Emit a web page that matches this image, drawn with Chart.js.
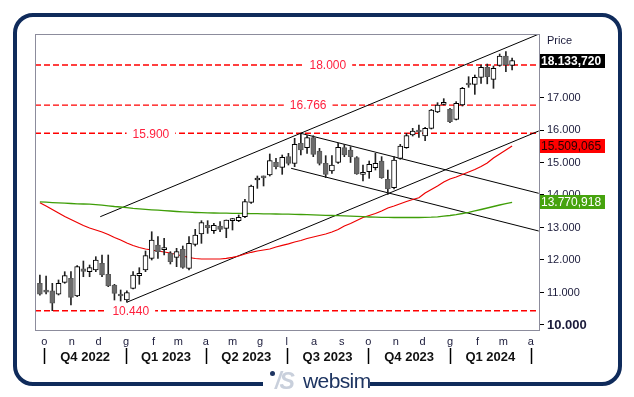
<!DOCTYPE html>
<html>
<head>
<meta charset="utf-8">
<script src="https://cdn.jsdelivr.net/npm/chart.js@4.4.1/dist/chart.umd.min.js"></script>
<style>
  html, body { margin: 0; padding: 0; background: #fff; }
  #wrap { position: relative; width: 634px; height: 397px; overflow: hidden; }
  #frame { position: absolute; left: 13px; top: 13px; width: 609px; height: 373px; box-sizing: border-box;
           border: 4px solid #0f2b5b; border-radius: 20px; }
  #logo { position: absolute; left: 263px; top: 368px; width: 107px; height: 27px; background: #fff;
          font-family: "Liberation Sans", Arial, sans-serif; white-space: nowrap; }
  #logo .dot { position: absolute; left: 7px; top: 3px; width: 5px; height: 5px; border-radius: 50%; background: #1d3461; }
  #logo .mk { position: absolute; left: 12px; top: 0px; font-size: 23px; font-weight: bold; font-style: italic; color: #c9d0dc; letter-spacing: -2px; }
  #logo .tx { position: absolute; left: 40px; top: 1px; font-size: 21px; color: #1d3461; letter-spacing: -0.6px; }
  canvas { position: absolute; left: 0; top: 0; }
</style>
</head>
<body>
<div id="wrap">
  <div id="frame"></div>
  <canvas id="chart" width="634" height="397"></canvas>
  <div id="logo"><span class="dot"></span><span class="mk">/S</span><span class="tx">websim</span></div>
</div>
<script>
// weekly candles, first week starting 26 Sep 2022
var firstWeek = '2022-09-26';
var opens  = [11283,11040,11055,10945,11313,11437,10892,11732,11640,11692,11898,11560,11231,10954,10770,11129,11517,11692,12051,12461,
              12320,12205,12083,12329,11744,12483,12800,13066,12902,13046,12974,13210,13210,13333,13775,14462,14540,14615,15005,14852,
              15180,14975,15590,15456,15764,15354,14975,14738,15005,15456,15385,15150,14636,14718,14843,15046,14483,14226,15128,15456,
              15846,16000,15815,16051,16554,16790,16636,16328,16769,17400,17405,17620,17928,17559,17990,18277,17990];
var highs  = [11538,11508,11283,11385,11640,11640,11825,11969,11846,12102,12154,12154,11252,11077,11050,11640,11763,12277,12870,12717,
              12667,12256,12359,12431,12717,12943,13210,13210,13128,13180,13230,13280,13385,13866,14308,14585,14585,15262,15128,15231,
              15282,15744,15867,15825,15825,15436,15210,15210,15590,15560,15487,15180,14923,15046,15282,15180,14769,15180,15560,15898,
              16051,16154,16082,16636,16841,16964,16667,16872,17313,17640,17692,18000,18030,17970,18338,18410,18215];
var lows   = [10920,10954,10440,10923,11283,10615,10871,11486,11486,11640,11486,11180,10769,10738,10700,11108,11252,11640,12000,12051,
              12154,11877,11794,11744,11692,12431,12513,12820,12820,12871,12686,12923,13180,13302,13744,14205,14277,14585,14800,14636,
              14923,14872,15230,15282,15180,14923,14533,14667,14975,15180,15000,14636,14430,14513,14769,14513,14020,14185,15098,15436,
              15815,15774,15671,16030,16533,16769,16226,16308,16738,17313,17097,17436,17420,17282,17960,17795,17850];
var closes = [10945,11010,10668,11283,11517,10852,11794,11652,11763,12000,11538,11200,10975,10892,11000,11538,11590,12133,12615,12256,
              12340,11948,12256,11775,12513,12769,13148,12994,13066,12943,13230,13250,13312,13794,14277,14513,14525,15056,14872,15159,
              14975,15560,15385,15764,15252,14975,14636,14923,15467,15230,15180,14646,14698,14944,14975,14533,14185,15077,15508,15825,
              15970,15938,16051,16615,16769,16810,16256,16820,17282,17385,17620,17928,17640,17897,18277,18000,18133.72];

// moving averages (red = short, green = long)
var maRed   = [13760,13662,13554,13446,13338,13246,13154,13062,12985,12923,12862,12785,12692,12615,12523,12446,12385,12338,12308,12277,
               12246,12215,12169,12123,12077,12046,12031,12031,12031,12031,12052,12083,12123,12185,12237,12277,12308,12338,12400,12452,
               12498,12554,12600,12662,12708,12754,12800,12862,12938,13046,13123,13215,13308,13369,13431,13508,13600,13662,13729,13800,
               13862,13914,14062,14169,14277,14400,14492,14554,14631,14708,14785,14877,14985,15138,15262,15385,15509.065];
var maGreen = [13791,13779,13766,13757,13748,13739,13729,13723,13717,13705,13686,13668,13646,13631,13612,13591,13575,13560,13545,13532,
               13520,13508,13492,13480,13471,13462,13456,13449,13446,13443,13440,13437,13434,13431,13428,13425,13422,13418,13415,13412,
               13409,13406,13400,13394,13388,13382,13375,13369,13363,13357,13351,13342,13332,13323,13317,13314,13311,13308,13308,13308,
               13308,13308,13311,13317,13329,13348,13369,13397,13431,13465,13508,13554,13600,13646,13692,13732,13770.918];

// horizontal levels
var levels = [18000, 16766, 15900, 10440];

// trend lines: [start date, value] -> [end date, value]
var trendLines = [
  [['2022-12-03', 13332], ['2024-04-10', 18950]],
  [['2023-01-02', 10700], ['2024-04-10', 15969]],
  [['2023-07-17', 15898], ['2024-04-10', 14052]],
  [['2023-07-06', 14822], ['2024-04-10', 12892]]
];

var monthStarts = ['2022-10-01','2022-11-01','2022-12-01','2023-01-01','2023-02-01','2023-03-01','2023-04-01','2023-05-01',
                   '2023-06-01','2023-07-01','2023-08-01','2023-09-01','2023-10-01','2023-11-01','2023-12-01','2024-01-01',
                   '2024-02-01','2024-03-01','2024-04-01'];
var monthLabels = ['o','n','d','g','f','m','a','m','g','l','a','s','o','n','d','g','f','m','a'];
var quarterStarts = ['2022-10-01','2023-01-01','2023-04-01','2023-07-01','2023-10-01','2024-01-01','2024-04-01'];
var quarterLabels = ['Q4 2022','Q1 2023','Q2 2023','Q3 2023','Q4 2023','Q1 2024'];
var yTicks = [10000, 11000, 12000, 13000, 14000, 15000, 16000, 17000, 18000];

// ---------------------------------------------------------------
var FONT = '"Liberation Sans", Arial, sans-serif';
var origin = Date.UTC(2022, 9, 1);
function dayOf(s) { return (Date.parse(s) - origin) / 86400000; }
function fmtIt(v, dec) {
  var parts = v.toFixed(dec).split('.');
  var i = parts[0].replace(/\B(?=(\d{3})+(?!\d))/g, '.');
  return parts.length > 1 ? i + ',' + parts[1] : i;
}

var xMin = -10.5, xMax = 557.3;
var days = closes.map(function (c, i) { return dayOf(firstWeek) + 7 * i; });
var isUp = closes.map(function (c, i) { return c >= opens[i]; });
var last = closes.length - 1;

var datasets = [];

levels.forEach(function (v) {
  datasets.push({
    type: 'line', order: 5, data: [{x: xMin, y: v}, {x: xMax, y: v}],
    borderColor: '#ff0000', borderWidth: 1.4, borderDash: [6, 3], pointRadius: 0
  });
});

trendLines.forEach(function (t) {
  datasets.push({
    type: 'line', order: 4,
    data: [{x: dayOf(t[0][0]), y: t[0][1]}, {x: dayOf(t[1][0]), y: t[1][1]}],
    borderColor: '#000', borderWidth: 1, pointRadius: 0
  });
});

datasets.push({
  type: 'line', order: 3, data: days.map(function (d, i) { return {x: d, y: maGreen[i]}; }),
  borderColor: '#3f9e08', borderWidth: 1.3, pointRadius: 0, tension: 0
});
datasets.push({
  type: 'line', order: 3, data: days.map(function (d, i) { return {x: d, y: maRed[i]}; }),
  borderColor: '#ee0000', borderWidth: 1.2, pointRadius: 0, tension: 0
});

// wicks
datasets.push({
  type: 'bar', order: 2, grouped: false, barThickness: 1,
  data: days.map(function (d, i) { return {x: d, y: [lows[i], highs[i]]}; }),
  backgroundColor: '#222', borderWidth: 0
});
// bodies
datasets.push({
  type: 'bar', order: 1, grouped: false, barThickness: 5, minBarLength: 2,
  data: days.map(function (d, i) { return {x: d, y: [opens[i], closes[i]]}; }),
  backgroundColor: isUp.map(function (u) { return u ? '#ffffff' : '#6b6b6b'; }),
  borderColor: isUp.map(function (u) { return u ? '#000000' : '#5a5a5a'; }),
  borderWidth: 1, borderSkipped: false
});

datasets.forEach(function (ds) { ds.xAxisID = 'x'; ds.yAxisID = 'y'; });

var levelLabelPos = [0.581, 0.542, 0.230, 0.190];
var valueBoxes = [
  {v: closes[last], bg: '#000000', fg: '#ffffff', bold: true},
  {v: maRed[last], bg: '#ff0000', fg: '#2a0000', bold: false},
  {v: maGreen[last], bg: '#46a30e', fg: '#ffffff', bold: false}
];

var overlay = {
  id: 'overlay',
  afterDatasetsDraw: function (chart) {
    var ctx = chart.ctx, a = chart.chartArea, y = chart.scales.y;
    ctx.save();
    ctx.font = '12px ' + FONT;
    ctx.textAlign = 'center';
    ctx.textBaseline = 'middle';
    levels.forEach(function (v, k) {
      var t = fmtIt(v, 0);
      var px = a.left + a.width * levelLabelPos[k];
      var py = y.getPixelForValue(v);
      var w = ctx.measureText(t).width + 12;
      ctx.fillStyle = '#fff';
      ctx.fillRect(px - w / 2, py - 3, w, 6);
      ctx.fillStyle = '#ff1f3d';
      ctx.fillText(t, px, py + 1);
    });
    ctx.strokeStyle = '#8c8c9c';
    ctx.lineWidth = 1;
    ctx.strokeRect(a.left + 0.5, a.top + 0.5, a.right - a.left, a.bottom - a.top);
    ctx.restore();
  },
  afterDraw: function (chart) {
    var ctx = chart.ctx, a = chart.chartArea, y = chart.scales.y, x = chart.scales.x;
    ctx.save();
    ctx.textBaseline = 'middle';
    ctx.textAlign = 'left';
    ctx.fillStyle = '#1a1a3a';
    ctx.font = '11px ' + FONT;
    ctx.fillText('Price', a.right + 8, a.top + 7);
    valueBoxes.forEach(function (b) {
      var py = Math.round(y.getPixelForValue(b.v));
      ctx.fillStyle = b.bg;
      ctx.fillRect(a.right + 1, py - 7, 65, 14);
      ctx.fillStyle = b.fg;
      ctx.font = (b.bold ? 'bold ' : '') + '12px ' + FONT;
      ctx.fillText(fmtIt(b.v, 3), a.right + 2, py + 1);
    });
    ctx.strokeStyle = '#000';
    ctx.lineWidth = 1.5;
    quarterStarts.forEach(function (s) {
      var px = Math.round(x.getPixelForValue(dayOf(s))) + 0.5;
      ctx.beginPath();
      ctx.moveTo(px, a.bottom + 18);
      ctx.lineTo(px, a.bottom + 34);
      ctx.stroke();
    });
    ctx.restore();
  }
};

var quarterMid = quarterLabels.map(function (q, i) {
  return (dayOf(quarterStarts[i]) + dayOf(quarterStarts[i + 1])) / 2;
});

new Chart(document.getElementById('chart'), {
  type: 'bar',
  data: { datasets: datasets },
  options: {
    responsive: false,
    animation: false,
    events: [],
    layout: { padding: { left: 35, top: 34, right: 0, bottom: 0 } },
    plugins: { legend: { display: false }, tooltip: { enabled: false } },
    scales: {
      x: {
        type: 'linear', position: 'bottom', min: xMin, max: xMax, offset: false,
        afterBuildTicks: function (s) { s.ticks = monthStarts.map(function (m) { return {value: dayOf(m)}; }); },
        afterFit: function (s) { s.height = 18; },
        ticks: {
          autoSkip: false, maxRotation: 0, padding: 5, color: '#1a1a3a',
          font: { family: FONT, size: 11 },
          callback: function (v, i) { return monthLabels[i]; }
        },
        grid: { drawOnChartArea: false, drawTicks: false },
        border: { color: '#8c8c9c' }
      },
      xq: {
        type: 'linear', position: 'bottom', weight: 1, min: xMin, max: xMax, offset: false,
        afterBuildTicks: function (s) { s.ticks = quarterMid.map(function (m) { return {value: m}; }); },
        afterFit: function (s) { s.height = 49; },
        ticks: {
          autoSkip: false, maxRotation: 0, padding: -6, color: '#111',
          font: { family: FONT, size: 13, weight: 'bold' },
          callback: function (v, i) { return quarterLabels[i]; }
        },
        grid: { display: false },
        border: { display: false }
      },
      y: {
        type: 'linear', position: 'right', min: 9846, max: 18954,
        afterBuildTicks: function (s) { s.ticks = yTicks.map(function (v) { return {value: v}; }); },
        afterFit: function (s) { s.width = 95; },
        ticks: {
          padding: 3, color: '#1a1a3a',
          font: function (c) {
            return c.tick && c.tick.value === 10000
              ? { family: FONT, size: 13, weight: 'bold' }
              : { family: FONT, size: 11 };
          },
          callback: function (v) { return v === 18000 ? '' : fmtIt(v, 0); }
        },
        grid: { drawOnChartArea: false, drawTicks: true, tickLength: 5, color: '#000' },
        border: { color: '#8c8c9c' }
      }
    }
  },
  plugins: [overlay]
});
</script>
</body>
</html>
